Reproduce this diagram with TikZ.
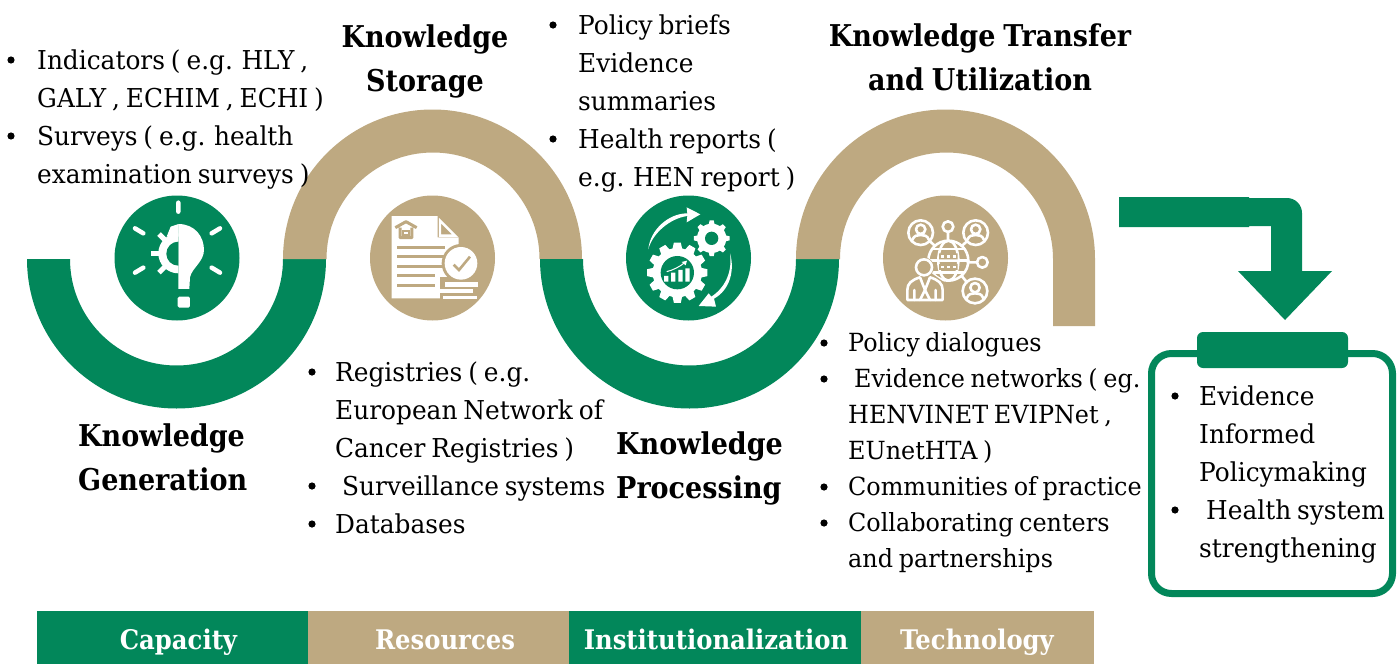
\documentclass[tikz,border=0pt]{standalone}
\usepackage{fontspec}
\setmainfont{DejaVu Serif}[FakeStretch=0.955,WordSpace=0.75]
\newfontfamily\headfont{DejaVu Serif}[FakeStretch=0.9,WordSpace=0.85]
\definecolor{grn}{HTML}{02875A}
\definecolor{tan}{HTML}{BEA981}
\tikzset{
 body/.style={anchor=base west,inner sep=0pt,font=\fontsize{26}{26}\selectfont,text=black},
 bodys/.style={body,font=\fontsize{25}{25}\selectfont},
 headl/.style={anchor=base west,inner sep=0pt,font=\fontsize{30}{30}\selectfont\headfont\bfseries,text=black},
 headc/.style={headl,anchor=base},
 barlabel/.style={anchor=base,inner sep=0pt,font=\fontsize{27}{27}\selectfont\headfont\bfseries,text=white},
 wl/.style={white,line width=2.6pt,line cap=round,line join=round},
}
\newcommand{\blt}[2]{\fill[black] (#1,#2) circle (3.6);}
\newcommand{\gearshape}[6]{% cx cy R r teeth col
 \fill[white] (#1,#2) circle (#3);
 \pgfmathsetmacro{\stp}{360/#5}
 \foreach \a in {0,\stp,...,359.9}{
  \fill[white,rotate around={\a:(#1,#2)},line join=round] (#1-0.2*#3,#2-#3*0.95) -- (#1-0.14*#3,#2-#3*1.22) -- (#1+0.14*#3,#2-#3*1.22) -- (#1+0.2*#3,#2-#3*0.95) -- cycle;}
 \fill[#6] (#1,#2) circle (#4);}
\begin{document}
\begin{tikzpicture}[x=1pt,y=-1pt]
\useasboundingbox (0,0) rectangle (1400,664);
% bands
\fill[grn] (27,259) arc[start angle=180,end angle=360,x radius=149.5,y radius=-149.5] -- (283,259) arc[start angle=360,end angle=180,x radius=106.5,y radius=-106.5] -- cycle;
\fill[tan] (283,259) arc[start angle=180,end angle=0,x radius=149.5,y radius=-149.5] -- (539.5,259) arc[start angle=0,end angle=180,x radius=106.5,y radius=-106.5] -- cycle;
\fill[grn] (540,259) arc[start angle=180,end angle=360,x radius=149.5,y radius=-149.5] -- (796,259) arc[start angle=360,end angle=180,x radius=106.5,y radius=-106.5] -- cycle;
\fill[tan] (796,259) arc[start angle=180,end angle=0,x radius=149.5,y radius=-149.5] -- (1095,326) -- (1053,326) -- (1053,259) arc[start angle=0,end angle=180,x radius=106.5,y radius=-106.5] -- cycle;
% icon discs
\fill[grn] (177,258) circle (62.5);
\fill[tan] (432.5,258) circle (62.5);
\fill[grn] (688.5,258) circle (62.5);
\fill[tan] (945.5,258) circle (62.5);
% icon 1: bulb and gear
\begin{scope}[shift={(100,190)},x=0.3333pt,y=-0.3333pt]
 \draw[white,line width=4.5pt,line cap=round] (235,38)--(235,65) (105,115)--(130,130) (360,115)--(335,130) (105,248)--(130,233) (360,248)--(335,233);
 \fill[white] (235,102) .. controls (285,102) and (312,140) .. (312,180) .. controls (312,215) and (275,235) .. (270,262) -- (268,297) -- (235,297) -- cycle;
 \fill[white] (235,130) arc[start angle=270,end angle=90,radius=60] -- cycle;
 \fill[white] (236,102) -- (212,110) -- (200,140) -- (236,140) -- cycle;
 \foreach \a in {135,180,225}{
  \draw[white,line width=5pt] ({235+50*cos(\a)},{190+50*sin(\a)}) -- ({235+82*cos(\a)},{190+82*sin(\a)});}
 \fill[grn] (235,155) arc[start angle=270,end angle=90,radius=36] -- cycle;
 \fill[white,rounded corners=1.5pt] (233,320) rectangle (270,353);
\end{scope}
% icon 2: document
\begin{scope}[shift={(360,190)},x=0.3333pt,y=-0.3333pt]
 \fill[white] (95,78) -- (233,78) -- (233,142) -- (296,142) -- (296,325) -- (95,325) -- cycle;
 \draw[white,line width=2.4pt,line join=miter] (240,92) -- (285,137) -- (240,137) -- cycle;
 \draw[tan,line width=3pt,line join=round] (106,113) -- (138,95) -- (170,113) (120,113) -- (120,143) -- (156,143) -- (156,113);
 \draw[tan,line width=2pt] (130,122) rectangle (146,136);
 \draw[tan,line width=2.4pt] (112,172)--(255,172) (112,200)--(255,200) (112,229)--(255,229) (112,257)--(225,257) (112,286)--(225,286);
 \fill[tan] (241,262) rectangle (300,330);
 \fill[tan] (303,220) circle (58);
 \fill[white] (303,220) circle (49);
 \draw[tan,line width=2.6pt,line join=miter] (281,224) -- (297,240) -- (330,200);
 \fill[white] (255,277) rectangle (355,290);
 \fill[white] (233,296) rectangle (340,310);
 \fill[white] (250,317) rectangle (350,327);
\end{scope}
% icon 3: gears and arrows
\begin{scope}[shift={(615,190)},x=0.3333pt,y=-0.3333pt]
 \gearshape{187}{248}{74}{50}{12}{grn}
 \gearshape{290}{145}{44}{20}{8}{grn}
 \fill[white] (100,178) .. controls (105,120) and (160,70) .. (217,70) -- (215,52) -- (256,73) -- (215,97) -- (217,78) .. controls (165,85) and (112,130) .. cycle;
 \fill[white] (345,190) .. controls (360,240) and (345,300) .. (297,326) -- (303,350) -- (251,348) -- (281,310) -- (289,320) .. controls (335,290) and (352,240) .. cycle;
 \fill[white] (147,258) rectangle (160,275) (168,248) rectangle (181,275) (190,240) rectangle (203,275) (211,235) rectangle (224,275);
 \draw[white,line width=1pt] (155,245) .. controls (175,240) and (195,230) .. (210,217);
 \fill[white] (200,216) -- (216,212) -- (212,226) -- cycle;
\end{scope}
% icon 4: network
\begin{scope}[shift={(875,190)},x=0.3333pt,y=-0.3333pt]
 \draw[wl] (137,128) circle (37) (219,110) circle (16) (302,128) circle (37) (322,217) circle (16) (300,303) circle (37);
 \draw[wl] (219,126)--(219,152) (164,153)--(180,168) (276,154)--(260,168) (278,217)--(306,217) (276,277)--(260,258);
 \draw[wl] (220,212) circle (60);
 \draw[wl] (220,212) ellipse [x radius=30,y radius=60];
 \draw[wl] (172,177)--(268,177) (160,212)--(280,212) (172,247)--(268,247);
 \fill[tan] (192,190) rectangle (248,208) (192,222) rectangle (248,240);
 \foreach \yy in {199,231}{\foreach \xx in {202,220,238}{\fill[white] (\xx-5,\yy-4) rectangle (\xx+5,\yy+4);}}
 \foreach \cx/\cy in {137/128,302/128,300/303}{
  \draw[wl] (\cx,\cy-10) circle (14);
  \draw[wl] (\cx-25,\cy+22) .. controls (\cx-20,\cy+8) and (\cx-10,\cy+7) .. (\cx,\cy+7) .. controls (\cx+10,\cy+7) and (\cx+20,\cy+8) .. (\cx+25,\cy+22);}
 \fill[tan] (125,250) -- (90,280) -- (90,340) -- (212,340) -- (212,280) -- (170,250) -- cycle;
 \fill[tan] (147,232) circle (30);
 \draw[wl] (147,232) circle (24);
 \draw[wl] (97,330) -- (97,300) .. controls (97,280) and (110,270) .. (135,262) -- (150,300) -- (165,262) .. controls (190,270) and (203,280) .. (203,300) -- (203,330) -- cycle;
 \draw[wl] (150,300)--(135,330) (150,300)--(165,330) (118,300)--(118,330) (182,300)--(182,330);
\end{scope}
% arrow and box
\fill[grn] (1119,197) -- (1249,197) -- (1249,198) -- (1287,198) arc[start angle=90,end angle=0,x radius=15,y radius=-15] -- (1302,271) -- (1332,271) -- (1285,320) -- (1238,271) -- (1271,271) -- (1271,226) -- (1249,226) -- (1249,227) -- (1119,227) -- cycle;
\draw[grn,line width=7pt,rounded corners=20pt] (1151.5,353.5) rectangle (1392.5,593.5);
\fill[grn,rounded corners=6pt] (1197,332) rectangle (1348,368);
% headings
\node[headl] (h1a) at (78,446) {Knowledge};
\node[headl] (h1b) at (78,490) {Generation};
\node[headc] (h2a) at (425,47) {Knowledge};
\node[headc] (h2b) at (425,91) {Storage};
\node[headl] (h3a) at (616,454) {Knowledge};
\node[headl] (h3b) at (616,498) {Processing};
\node[headc] (h4a) at (980,46) {Knowledge Transfer};
\node[headc] (h4b) at (980,90) {and Utilization};
% block 1
\blt{11}{60}\blt{11}{136}
\node[body] (a1) at (37,69) {Indicators ( e.g. HLY ,};
\node[body] (a2) at (37,107) {GALY , ECHIM , ECHI )};
\node[body] (a3) at (37,145) {Surveys ( e.g. health};
\node[body] (a4) at (37,183) {examination surveys )};
% block 2
\blt{312}{372}\blt{312}{486}\blt{312}{524}
\node[body] (b1) at (335,381) {Registries ( e.g.};
\node[body] (b2) at (335,419) {European Network of};
\node[body] (b3) at (335,457) {Cancer Registries )};
\node[body] (b4) at (342,495) {Surveillance systems};
\node[body] (b5) at (335,533) {Databases};
% block 3
\blt{553}{25}\blt{553}{139}
\node[body] (c1) at (578,34) {Policy briefs};
\node[body] (c2) at (578,72) {Evidence};
\node[body] (c3) at (578,110) {summaries};
\node[body] (c4) at (578,148) {Health reports (};
\node[body] (c5) at (578,186) {e.g. HEN report )};
% block 4
\blt{824}{343}\blt{824}{379}\blt{824}{487}\blt{824}{523}
\node[bodys] (d1) at (848,351) {Policy dialogues};
\node[bodys] (d2) at (854,387) {Evidence networks ( eg.};
\node[bodys] (d3) at (848,423) {HENVINET EVIPNet ,};
\node[bodys] (d4) at (848,459) {EUnetHTA )};
\node[bodys] (d5) at (848,495) {Communities of practice};
\node[bodys] (d6) at (848,531) {Collaborating centers};
\node[bodys] (d7) at (848,567) {and partnerships};
% block 5
\blt{1175}{396}\blt{1175}{510}
\node[body] (e1) at (1199,405) {Evidence};
\node[body] (e2) at (1199,443) {Informed};
\node[body] (e3) at (1199,481) {Policymaking};
\node[body] (e4) at (1206,519) {Health system};
\node[body] (e5) at (1199,557) {strengthening};
% bottom bar
\fill[grn] (37,611) rectangle (308,664);
\fill[tan] (308,611) rectangle (569,664);
\fill[grn] (569,611) rectangle (861,664);
\fill[tan] (861,611) rectangle (1094,664);
\node[barlabel] (f1) at (178.5,649) {Capacity};
\node[barlabel] (f2) at (445,649) {Resources};
\node[barlabel] (f3) at (716,649) {Institutionalization};
\node[barlabel] (f4) at (977,649) {Technology};
\end{tikzpicture}
\end{document}
